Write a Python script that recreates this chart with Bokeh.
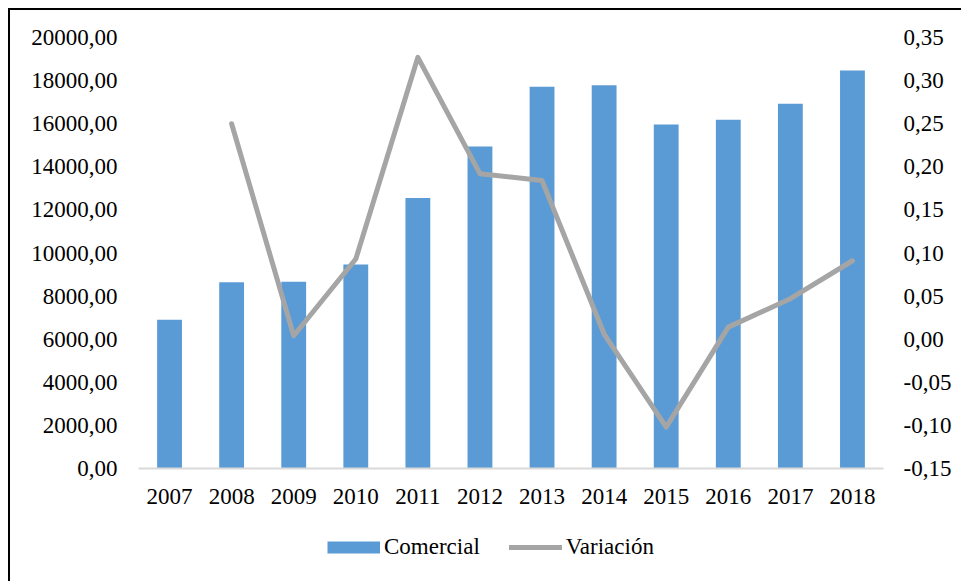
from bokeh.plotting import figure
from bokeh.layouts import column
from bokeh.models import (Range1d, LinearAxis, FixedTicker, CustomJSTickFormatter,
                          FactorRange, Legend, LegendItem)
from bokeh.embed import file_html
from bokeh.resources import INLINE

years = ["2007", "2008", "2009", "2010", "2011", "2012", "2013", "2014",
         "2015", "2016", "2017", "2018"]
comercial = [6900, 8640, 8670, 9470, 12550, 14940, 17710, 17790, 15960, 16180, 16920, 18470]
var_years = years[1:]
variacion = [0.250, 0.004, 0.093, 0.327, 0.192, 0.184, 0.006, -0.102, 0.014, 0.047, 0.091]
left_ticks = [0, 2000, 4000, 6000, 8000, 10000, 12000, 14000, 16000, 18000, 20000]
right_ticks = [-0.15, -0.10, -0.05, 0.0, 0.05, 0.10, 0.15, 0.20, 0.25, 0.30, 0.35]

FONT = "Liberation Serif"
FS = "23px"
BAR = "#5B9BD5"
LINE = "#A5A5A5"

p = figure(width=951, height=510, output_backend="svg", toolbar_location=None,
           x_range=FactorRange(factors=years, range_padding=0, factor_padding=0),
           y_range=Range1d(0, 20000),
           min_border_left=128, min_border_right=78, min_border_top=27, min_border_bottom=52)
p.outline_line_color = None
p.xgrid.visible = False
p.ygrid.visible = False
p.background_fill_color = "white"
p.border_fill_color = "white"

p.extra_y_ranges = {"var": Range1d(-0.15, 0.35)}

fmt = CustomJSTickFormatter(code="return tick.toFixed(2).replace('.', ',');")

ly = p.yaxis[0]
ly.ticker = FixedTicker(ticks=left_ticks)
ly.formatter = fmt
ry = LinearAxis(y_range_name="var", ticker=FixedTicker(ticks=right_ticks), formatter=fmt)
p.add_layout(ry, "right")

for ax in (ly, ry):
    ax.axis_line_color = None
    ax.major_tick_line_color = None
    ax.minor_tick_line_color = None
    ax.major_tick_in = 0
    ax.major_tick_out = 0
    ax.major_label_text_font = FONT
    ax.major_label_text_font_size = FS
    ax.major_label_text_color = "black"
ly.major_label_standoff = 21
ry.major_label_standoff = 20

xa = p.xaxis[0]
xa.axis_line_color = "#D9D9D9"
xa.axis_line_width = 2
xa.major_tick_line_color = None
xa.minor_tick_line_color = None
xa.major_tick_in = 0
xa.major_tick_out = 0
xa.major_label_standoff = 20
xa.major_label_text_font = FONT
xa.major_label_text_font_size = FS
xa.major_label_text_color = "black"

p.vbar(x=years, top=comercial, width=0.4, fill_color=BAR, line_color=None)
p.line(x=var_years, y=variacion, y_range_name="var", line_color=LINE,
       line_width=5, line_cap="round", line_join="round")

# legend strip below the chart
lg = figure(width=951, height=61, output_backend="svg", toolbar_location=None,
            x_range=Range1d(0, 1), y_range=Range1d(0, 1),
            min_border_left=0, min_border_right=0, min_border_top=0, min_border_bottom=0)
lg.axis.visible = False
lg.grid.visible = False
lg.outline_line_color = None
lg.background_fill_color = "white"
lg.border_fill_color = "white"
# sample renderers kept outside the visible range; they only supply legend swatches
d1 = lg.line(x=[5, 6], y=[5, 6], line_color=BAR, line_width=12, line_cap="butt")
d2 = lg.line(x=[5, 6], y=[5, 6], line_color=LINE, line_width=5, line_cap="round")

legend = Legend(items=[LegendItem(label="Comercial", renderers=[d1]),
                       LegendItem(label="Variación", renderers=[d2])],
                orientation="horizontal", location=(189, 21),
                glyph_width=53, glyph_height=20, label_standoff=4, spacing=29,
                padding=0, margin=0, border_line_color=None, background_fill_alpha=0,
                label_text_font=FONT, label_text_font_size=FS, label_text_color="black")
lg.add_layout(legend, "center")

layout = column(p, lg, spacing=0)
layout.styles = {"border-left": "2px solid black", "border-top": "2px solid black",
                 "margin-left": "8px", "margin-top": "8px"}

open("out.html", "w").write(file_html(layout, INLINE))
